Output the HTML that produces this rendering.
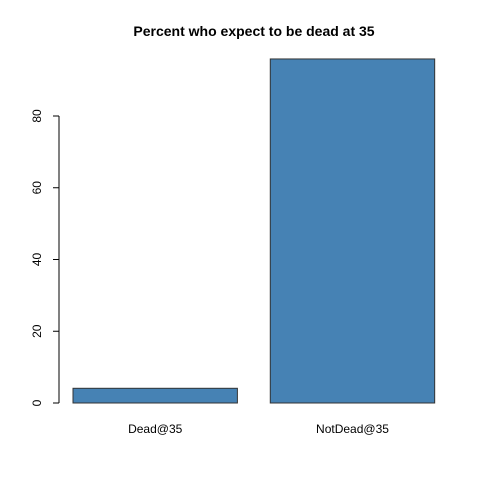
<!DOCTYPE html>
<html><head><meta charset="utf-8"><style>
body{margin:0;background:#fff}
svg{display:block;font-family:"Liberation Sans",sans-serif}
</style></head><body>
<svg id="chart" width="480" height="480">
<text x="254" y="36" text-anchor="middle" font-size="14" font-weight="bold">Percent who expect to be dead at 35</text>
<g id="yaxis"></g>
<g id="bars"></g>
<g id="xlabels"></g>
</svg>
<script>
const categories = ["Dead@35", "NotDead@35"];
const values = [4.1, 95.9];
const yTicks = [0, 20, 40, 60, 80];
const NS = "http://www.w3.org/2000/svg";
function y(v){ return 403 - v * 3.5875; }
function x(u){ return 73 + (u - 0.2) * 164.4; }
function mk(tag, attrs, parent){ const e=document.createElementNS(NS,tag); for(const k in attrs) e.setAttribute(k,attrs[k]); parent.appendChild(e); return e; }
const ya=document.getElementById('yaxis');
const axl=mk('line',{x1:59,x2:59,y1:y(yTicks[0]),y2:y(yTicks[yTicks.length-1]),stroke:'#000'},ya);


yTicks.forEach(t=>{
  const l=mk('line',{x1:53,x2:59,y1:y(t),y2:y(t),stroke:'#000'},ya);
  
  
  const tx=mk('text',{x:0,y:0,'font-size':12,'text-anchor':'middle',transform:`translate(41,${y(t)}) rotate(-90)`},ya);
  tx.textContent=t;
  
  
});
const bg=document.getElementById('bars'), xl=document.getElementById('xlabels');
categories.forEach((c,i)=>{
  const u0=0.2+i*1.2, u1=u0+1;
  const r=mk('rect',{x:x(u0),y:y(values[i]),width:x(u1)-x(u0),height:y(0)-y(values[i]),fill:'#4682b4',stroke:'#333','stroke-width':1},bg);
  
  
  const t=mk('text',{x:(x(u0)+x(u1))/2,y:433,'font-size':12,'text-anchor':'middle'},xl);
  t.textContent=c;
  
  
});
</script>
</body></html>
